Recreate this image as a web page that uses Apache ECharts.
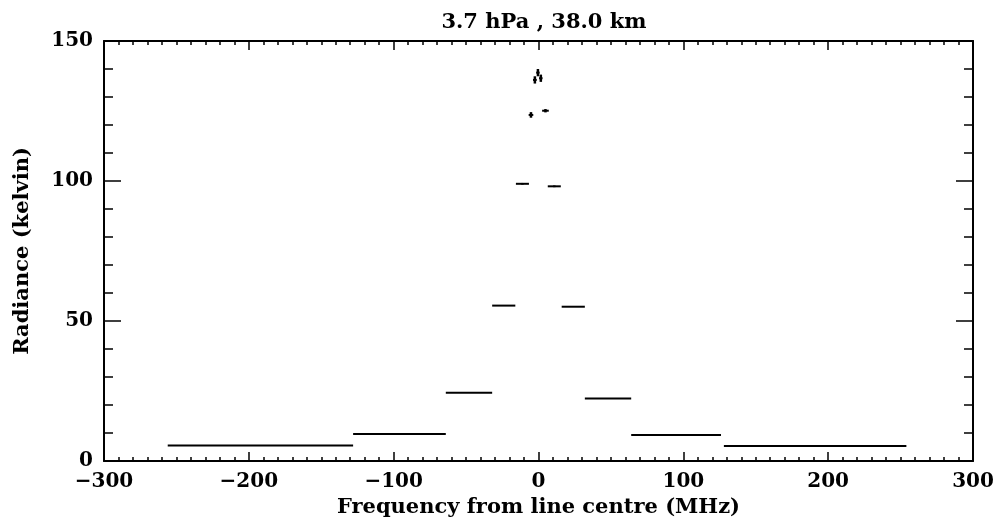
<!DOCTYPE html>
<html>
<head>
    <meta charset="utf-8">
    <title>3.7 hPa , 38.0 km</title>
    <script src="https://cdn.jsdelivr.net/npm/echarts@6/dist/echarts.min.js"></script>
    <style>
        html, body { margin: 0; padding: 0; background: #fff; }
        #main { width: 999px; height: 525px; }
    </style>
</head>
<body>
<div id="main"></div>
<script type="text/javascript">
    // channel edges (MHz) and measured radiance (K)
    var freqLo   = [-256, -128, -64, -32, -15.6, -6.8, -3.8, -1.6, 0.4, 2.5, 6.4, 16, 32, 64, 128];
    var freqHi   = [-128, -64, -32, -16, -6.6, -3.6, -1.2, 0.8, 2.8, 7.1, 15.4, 32, 64, 126, 254];
    var radiance = [5.5, 9.6, 24.4, 55.5, 99, 123.6, 136.1, 138.7, 136.7, 125.1, 98.1, 55.1, 22.3, 9.3, 5.4];
    var radErr   = [0, 0, 0, 0, 0.3, 1.0, 1.3, 1.3, 1.3, 0.6, 0.3, 0, 0, 0, 0];
    var xTicks   = [-300, -200, -100, 0, 100, 200, 300];
    var yTicks   = [0, 50, 100, 150];

    var FONT = 'DejaVu Serif';
    var myChart = echarts.init(document.getElementById('main'));

    var data = [];
    for (var i = 0; i < radiance.length; i++) {
        data.push([freqLo[i], freqHi[i], radiance[i], radErr[i]]);
    }

    function renderChan(params, api) {
        var lo = api.value(0), hi = api.value(1), v = api.value(2), e = api.value(3);
        var a = api.coord([lo, v]), b = api.coord([hi, v]);
        var kids = [{
            type: 'line',
            shape: { x1: a[0], y1: a[1], x2: b[0], y2: b[1] },
            style: { stroke: '#000', lineWidth: 2 }
        }];
        if (e > 0) {
            var m = (lo + hi) / 2;
            var t = api.coord([m, v + e]), u = api.coord([m, v - e]);
            kids.push({
                type: 'line',
                shape: { x1: t[0], y1: t[1], x2: u[0], y2: u[1] },
                style: { stroke: '#000', lineWidth: 2.5 }
            });
        }
        return { type: 'group', children: kids };
    }

    function minus(v) { return String(v).replace('-', '\u2212'); }

    var tickStyle = { color: '#000', width: 1.5 };
    var frame = { onZero: false, lineStyle: { color: '#000', width: 2 } };
    var option = {
        animation: false,
        backgroundColor: '#fff',
        title: {
            text: '3.7 hPa , 38.0 km',
            left: 539,
            top: 7,
            textAlign: 'center',
            textStyle: { fontFamily: FONT, fontWeight: 'bold', fontSize: 21, color: '#000' }
        },
        grid: { left: 104, right: 26, top: 41, bottom: 64 },
        xAxis: [{
            type: 'value',
            min: -300, max: 300, interval: 100,
            position: 'bottom',
            name: 'Frequency from line centre (MHz)',
            nameLocation: 'middle',
            nameGap: 27,
            nameTextStyle: { fontFamily: FONT, fontWeight: 'bold', fontSize: 21, color: '#000' },
            axisLine: frame,
            axisTick: { inside: true, length: 9, lineStyle: tickStyle },
            minorTick: { show: true, splitNumber: 10, length: 4, lineStyle: tickStyle },
            axisLabel: {
                margin: 11,
                fontFamily: FONT, fontWeight: 'bold', fontSize: 20, color: '#000',
                formatter: function (v) { return xTicks.indexOf(v) >= 0 ? minus(v) : ''; }
            },
            splitLine: { show: false }
        }, {
            type: 'value',
            min: -300, max: 300, interval: 100,
            position: 'top',
            axisLine: frame,
            axisTick: { inside: true, length: 9, lineStyle: tickStyle },
            minorTick: { show: true, splitNumber: 10, length: 4, lineStyle: tickStyle },
            axisLabel: { show: false },
            splitLine: { show: false }
        }],
        yAxis: [{
            type: 'value',
            min: 0, max: 150, interval: 50,
            position: 'left',
            name: 'Radiance (kelvin)',
            nameLocation: 'middle',
            nameGap: 71,
            nameTextStyle: { fontFamily: FONT, fontWeight: 'bold', fontSize: 21, color: '#000' },
            axisLine: frame,
            axisTick: { inside: true, length: 17, lineStyle: tickStyle },
            minorTick: { show: true, splitNumber: 5, length: 9, lineStyle: tickStyle },
            axisLabel: {
                margin: 11,
                fontFamily: FONT, fontWeight: 'bold', fontSize: 20, color: '#000',
                formatter: function (v) { return yTicks.indexOf(v) >= 0 ? String(v) : ''; }
            },
            splitLine: { show: false }
        }, {
            type: 'value',
            min: 0, max: 150, interval: 50,
            position: 'right',
            axisLine: frame,
            axisTick: { inside: true, length: 17, lineStyle: tickStyle },
            minorTick: { show: true, splitNumber: 5, length: 9, lineStyle: tickStyle },
            axisLabel: { show: false },
            splitLine: { show: false }
        }],
        series: [{
            type: 'custom',
            renderItem: renderChan,
            encode: { x: [0, 1], y: 2 },
            data: data,
            silent: true
        }]
    };
    myChart.setOption(option);
</script>
</body>
</html>
